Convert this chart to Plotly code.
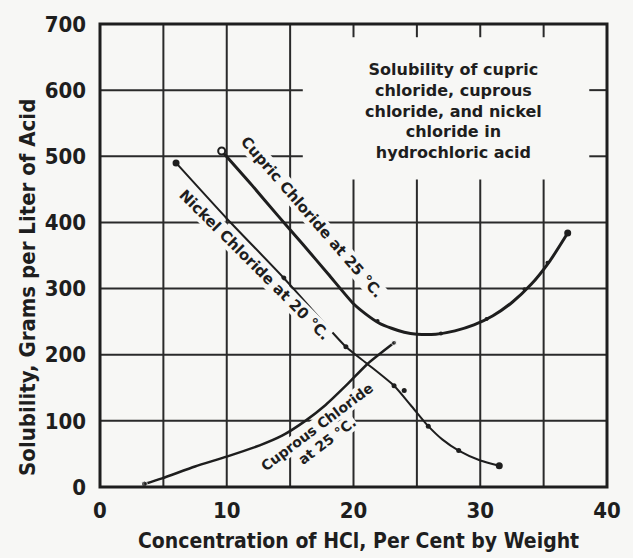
import plotly.graph_objects as go

# ---------------- data ----------------
cupric_x = [9.6, 12.0, 14.0, 16.0, 18.0, 20.0, 21.0, 22.0, 23.0, 24.0, 25.0, 26.5, 28.0, 29.5, 31.0, 32.5, 34.0, 35.5, 36.9]
cupric_y = [508, 456, 411, 367, 322, 277, 261, 248, 240, 234, 231, 231, 236, 245, 259, 279, 306, 342, 384]
cupric_pts_x = [21.9, 26.9, 30.5, 33.5, 35.3]
cupric_pts_y = [251, 232, 254, 299, 339]

nickel_x = [6.0, 10.0, 14.5, 19.4, 21.1, 23.2, 24.5, 25.9, 27.0, 28.3, 30.0, 31.5]
nickel_y = [490, 406, 316, 212, 186, 153, 124, 92, 72, 55, 40, 32]
nickel_pts_x = [14.5, 19.4, 23.2, 24.0, 25.9, 28.3]
nickel_pts_y = [316, 212, 153, 146, 92, 55]

cuprous_x = [3.5, 4.9, 7.5, 10.0, 12.6, 14.4, 16.2, 17.8, 19.5, 21.1, 23.2]
cuprous_y = [4.5, 13, 31, 46, 63, 78, 100, 124, 155, 186, 218]

x_ticks = [0, 10, 20, 30, 40]
y_ticks = [0, 100, 200, 300, 400, 500, 600, 700]
x_grid = [5, 10, 15, 20, 25, 30, 35]
y_grid = [100, 200, 300, 400, 500, 600]

x_title = "Concentration of HCl, Per Cent by Weight"
y_title = "Solubility, Grams per Liter of Acid"
box_text = "Solubility of cupric<br>chloride, cuprous<br>chloride, and nickel<br>chloride in<br>hydrochloric acid"
label_cupric = "Cupric Chloride at 25 °C."
label_nickel = "Nickel Chloride at 20 °C."
label_cuprous_1 = "Cuprous Chloride"
label_cuprous_2 = "at 25 °C."

# ---------------- styling ----------------
BG = "#f7f7f5"
INK = "#1e1e1e"
GRID = "#2a2a2a"
NARROW = "DejaVu Sans Condensed, Liberation Sans, Arial, sans-serif"
BOLDSANS = "DejaVu Sans, Open Sans, sans-serif"

fig = go.Figure()

fig.add_trace(go.Scatter(x=cupric_x, y=cupric_y, mode="lines",
                         line=dict(color=INK, width=3, shape="spline", smoothing=0.6),
                         hoverinfo="skip", showlegend=False))
fig.add_trace(go.Scatter(x=cupric_pts_x, y=cupric_pts_y, mode="markers",
                         marker=dict(color=INK, size=4), showlegend=False))
fig.add_trace(go.Scatter(x=[cupric_x[0]], y=[cupric_y[0]], mode="markers",
                         marker=dict(color=BG, size=7, symbol="circle",
                                     line=dict(color=INK, width=2)), showlegend=False))
fig.add_trace(go.Scatter(x=[cupric_x[-1]], y=[cupric_y[-1]], mode="markers",
                         marker=dict(color=INK, size=7), showlegend=False))

fig.add_trace(go.Scatter(x=nickel_x, y=nickel_y, mode="lines",
                         line=dict(color=INK, width=2, shape="spline", smoothing=0.6),
                         showlegend=False))
fig.add_trace(go.Scatter(x=nickel_pts_x, y=nickel_pts_y, mode="markers",
                         marker=dict(color=INK, size=5), showlegend=False))
fig.add_trace(go.Scatter(x=[nickel_x[0], nickel_x[-1]], y=[nickel_y[0], nickel_y[-1]], mode="markers",
                         marker=dict(color=INK, size=7), showlegend=False))

fig.add_trace(go.Scatter(x=cuprous_x, y=cuprous_y, mode="lines",
                         line=dict(color=INK, width=2.5, shape="spline", smoothing=0.6),
                         showlegend=False))
fig.add_trace(go.Scatter(x=[cuprous_x[0], cuprous_x[-1]], y=[cuprous_y[0], cuprous_y[-1]], mode="markers",
                         marker=dict(color=INK, size=[6, 5]), showlegend=False))

# ---------------- grid (drawn as shapes, with a gap around the caption) ----------------
shapes = []
box_x0, box_x1 = 16.0, 38.6
box_y0, box_y1 = 465, 680
for gx in x_grid:
    if gx > box_x0:
        shapes.append(dict(type="line", x0=gx, x1=gx, y0=0, y1=box_y0, layer="below",
                           line=dict(color=GRID, width=2)))
        shapes.append(dict(type="line", x0=gx, x1=gx, y0=box_y1, y1=700, layer="below",
                           line=dict(color=GRID, width=2)))
    else:
        shapes.append(dict(type="line", x0=gx, x1=gx, y0=0, y1=700, layer="below",
                           line=dict(color=GRID, width=2)))
for gy in y_grid:
    if gy > box_y0:
        shapes.append(dict(type="line", x0=0, x1=box_x0, y0=gy, y1=gy, layer="below",
                           line=dict(color=GRID, width=2)))
        shapes.append(dict(type="line", x0=box_x1, x1=40, y0=gy, y1=gy, layer="below",
                           line=dict(color=GRID, width=2)))
    else:
        shapes.append(dict(type="line", x0=0, x1=40, y0=gy, y1=gy, layer="below",
                           line=dict(color=GRID, width=2)))
shapes.append(dict(type="rect", xref="paper", yref="paper", x0=0, x1=1, y0=0, y1=1,
                   layer="above", line=dict(color=INK, width=3)))

label_font = dict(family=BOLDSANS, size=15, color=INK, weight="bold")
annotations = [
    dict(x=27.9, y=569, text=box_text, showarrow=False, align="center",
         font=dict(family=BOLDSANS, size=16, color=INK, weight="bold")),
    dict(x=16.7, y=408, text=label_cupric, showarrow=False, textangle=49,
         font=label_font, bgcolor=BG, borderpad=0),
    dict(x=12.2, y=336, text=label_nickel, showarrow=False, textangle=45,
         font=label_font, bgcolor=BG, borderpad=0),
    dict(x=17.1, y=91, text=label_cuprous_1, showarrow=False, textangle=-37,
         font=dict(family=BOLDSANS, size=14, color=INK, weight="bold"), bgcolor=BG, borderpad=0),
    dict(x=17.9, y=70, text=label_cuprous_2, showarrow=False, textangle=-37,
         font=dict(family=BOLDSANS, size=14, color=INK, weight="bold"), bgcolor=BG, borderpad=0),
    dict(x=0.51, y=0, xref="paper", yref="paper", yshift=-54, text=x_title, showarrow=False,
         yanchor="middle", font=dict(family=NARROW, size=21, color=INK, weight="bold")),
    dict(x=0, y=0.43, xref="paper", yref="paper", xshift=-72, text=y_title, showarrow=False,
         textangle=-90, xanchor="center", font=dict(family=NARROW, size=22, color=INK, weight="bold")),
]

fig.update_layout(
    width=633, height=558,
    margin=dict(l=100, r=15, t=22, b=71),
    paper_bgcolor=BG, plot_bgcolor=BG,
    shapes=shapes, annotations=annotations,
    showlegend=False,
    xaxis=dict(range=[0, 40], tickvals=x_ticks, showgrid=False, zeroline=False,
               showline=False, ticks="", ticklabelstandoff=8,
               tickfont=dict(family=NARROW, size=22, color=INK, weight="bold")),
    yaxis=dict(range=[0, 700], tickvals=y_ticks, showgrid=False, zeroline=False,
               showline=False, ticks="", ticklabelstandoff=13,
               tickfont=dict(family=NARROW, size=22, color=INK, weight="bold")),
)

fig.write_html("out.html")
